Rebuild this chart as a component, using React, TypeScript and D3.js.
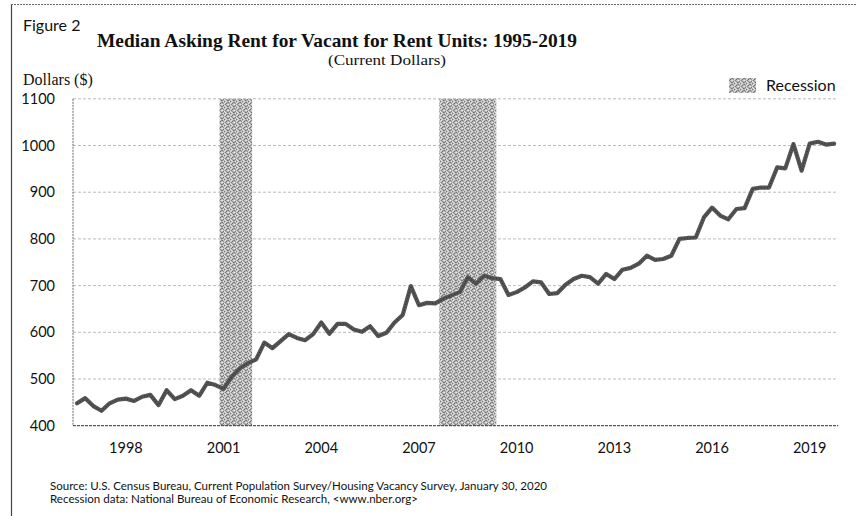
import React from "react";
import * as d3 from "d3";

// Quarterly median asking rent, 1996Q3 .. 2019Q4 (current dollars)
const startYear = 1996;
const startQuarter = 3;
const rent: number[] = [
  448, 459, 442, 432, 448, 456, 458, 453, 462, 466,
  444, 476, 457, 464, 476, 464, 492, 487, 479, 505,
  523, 534, 542, 578, 566, 581, 596, 588, 583, 596,
  621, 597, 618, 618, 606, 601, 613, 592, 599, 621,
  637, 699, 658, 663, 662, 672, 679, 686, 718, 704,
  721, 716, 714, 680, 686, 696, 709, 707, 682, 684,
  702, 714, 721, 718, 704, 725, 714, 734, 738, 747,
  764, 755, 757, 764, 800, 802, 803, 846, 867, 850,
  842, 864, 866, 907, 910, 910, 953, 951, 1003, 946,
  1004, 1008, 1002, 1004,
];
const quarters: string[] = rent.map((_, i) => {
  const q = startQuarter - 1 + i;
  return `${startYear + Math.floor(q / 4)}Q${(q % 4) + 1}`;
});
const xTickLabels = ["1998", "2001", "2004", "2007", "2010", "2013", "2016", "2019"];
const yTicks = [400, 500, 600, 700, 800, 900, 1000, 1100];
// recessions: [first quarter, last quarter]
const recessions: [string, string][] = [
  ["2001Q1", "2001Q4"],
  ["2007Q4", "2009Q2"],
];

// fixed stipple texture cells (x, y, shade) for the recession fill
const stippleDots: [number, number, string][] = [
  [0, 0, "#777"], [3, 0, "#e6e6e6"], [5, 0, "#8c8c8c"],
  [1, 1, "#999"], [4, 1, "#6e6e6e"], [2, 1, "#ddd"],
  [0, 2, "#ececec"], [3, 2, "#808080"], [5, 2, "#d8d8d8"],
  [1, 3, "#7a7a7a"], [2, 3, "#e4e4e4"], [4, 3, "#939393"],
  [0, 4, "#888"], [3, 4, "#e8e8e8"], [5, 4, "#727272"],
  [2, 5, "#767676"], [4, 5, "#dedede"], [1, 5, "#e2e2e2"],
];

const W = 857;
const H = 516;
const L = 73;
const R = 838.2;
const T = 98.8;
const B = 425.7;

export default function App() {
  const x = d3.scaleBand<string>().domain(quarters).range([L, R]).padding(0);
  const y = d3.scaleLinear().domain([400, 1100]).range([B, T]);
  const bw = x.bandwidth();
  const line = d3
    .line<number>()
    .x((_, i) => (x(quarters[i]) as number) + bw / 2)
    .y((d) => y(d));

  const sans = "Lato, 'Open Sans', sans-serif";
  const serif = "'Liberation Serif', 'DejaVu Serif', serif";

  return (
    <svg width={W} height={H} style={{ position: "absolute", left: 0, top: 0, background: "#fff" }}>
      <defs>
        <pattern id="stip" width="6" height="6" patternUnits="userSpaceOnUse">
          <rect width="6" height="6" fill="#b8b8b8" />
          {stippleDots.map(([px, py, c], k) => (
            <rect key={k} x={px} y={py} width="1" height="1" fill={c} />
          ))}
        </pattern>
      </defs>
      <rect x={0} y={0} width={W} height={H} fill="#fff" />
      {/* frame */}
      <line x1={11.5} y1={4} x2={11.5} y2={H} stroke="#444" strokeWidth={1.2} />
      <line x1={11} y1={4.5} x2={W} y2={4.5} stroke="#666" strokeWidth={1} strokeDasharray="2,1" />

      <text x={23} y={31} fontFamily={sans} fontSize={16} fill="#111">Figure 2</text>
      <text x={97} y={47} fontFamily={serif} fontSize={19} fontWeight="bold" fill="#111"
        textLength={480} lengthAdjust="spacingAndGlyphs">
        Median Asking Rent for Vacant for Rent Units: 1995-2019
      </text>
      <text x={328} y={65} fontFamily={serif} fontSize={15} fill="#111"
        textLength={118} lengthAdjust="spacingAndGlyphs">(Current Dollars)</text>
      <text x={23} y={85} fontFamily={serif} fontSize={16} fill="#111">Dollars ($)</text>

      {/* recession bands */}
      {recessions.map(([a, b], k) => (
        <rect key={k} x={x(a) as number} y={T} width={(x(b) as number) + bw - (x(a) as number)}
          height={B - T} fill="url(#stip)" />
      ))}

      {/* grid */}
      {yTicks.filter((t) => t > 400).map((t) => (
        <line key={t} x1={L} x2={R} y1={y(t)} y2={y(t)} stroke="#aaa" strokeWidth={0.8}
          strokeDasharray="3,2" />
      ))}
      <line x1={L} x2={L} y1={T} y2={B} stroke="#666" strokeWidth={1} strokeDasharray="2,1" />
      <line x1={L} x2={R} y1={B} y2={B} stroke="#555" strokeWidth={1.2} strokeDasharray="3,1" />

      {/* y labels */}
      {yTicks.map((t) => (
        <text key={t} x={55} y={y(t) + 5} textAnchor="end" fontFamily={sans} fontSize={14.5}
          fill="#111">
          {t}
        </text>
      ))}
      {/* x labels */}
      {xTickLabels.map((lab) => (
        <text key={lab} x={(x(lab + "Q1") as number) + bw / 2} y={453} textAnchor="middle"
          fontFamily={sans} fontSize={14.5} fill="#111">
          {lab}
        </text>
      ))}

      {/* series */}
      <path d={line(rent) as string} fill="none" stroke="#555" strokeWidth={4.2}
        strokeLinejoin="round" strokeLinecap="round" />
      <path d={line(rent) as string} fill="none" stroke="#3a3a3a" strokeWidth={1.5}
        strokeDasharray="1,2" strokeLinejoin="round" />

      {/* legend */}
      <rect x={729} y={78} width={27} height={15} fill="url(#stip)" />
      <text x={766} y={91} fontFamily={sans} fontSize={16} fill="#111">Recession</text>

      {/* source */}
      <text x={50} y={490} fontFamily={sans} fontSize={11} fill="#111" textLength={497}
        lengthAdjust="spacingAndGlyphs">
        Source: U.S. Census Bureau, Current Population Survey/Housing Vacancy Survey, January 30, 2020
      </text>
      <text x={50} y={503} fontFamily={sans} fontSize={11} fill="#111" textLength={368}
        lengthAdjust="spacingAndGlyphs">
        Recession data: National Bureau of Economic Research, &lt;www.nber.org&gt;
      </text>
    </svg>
  );
}
